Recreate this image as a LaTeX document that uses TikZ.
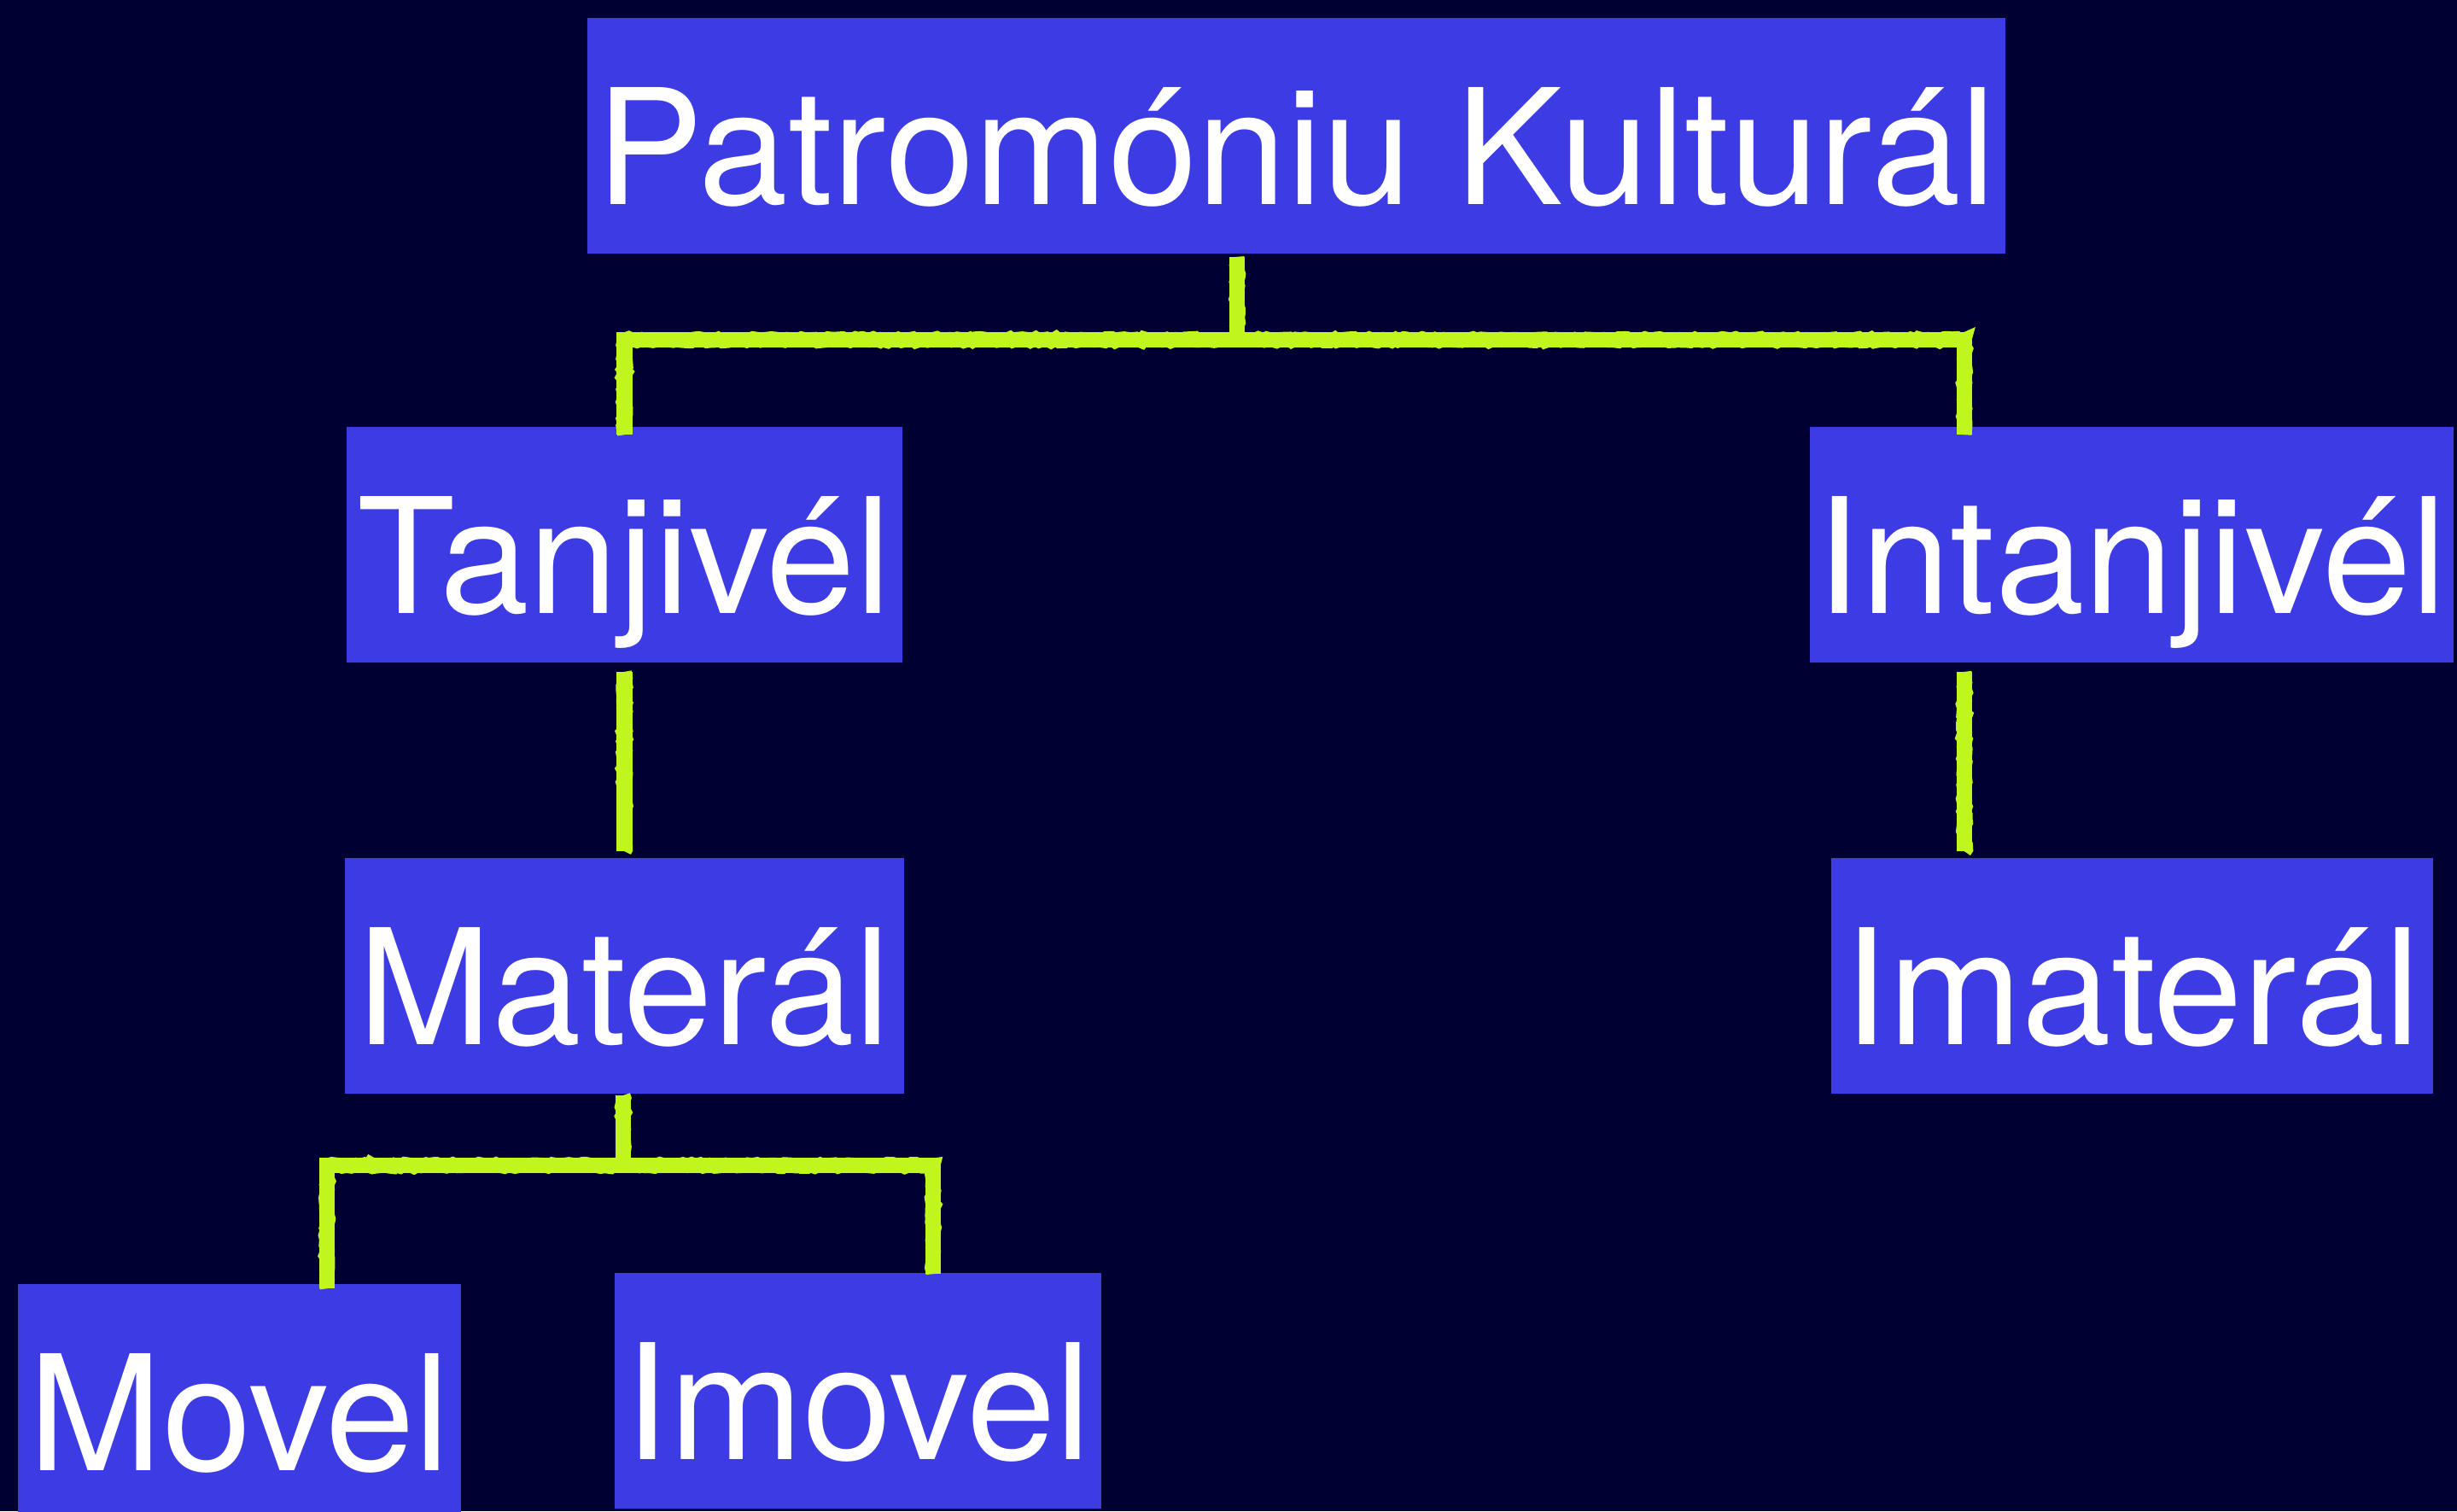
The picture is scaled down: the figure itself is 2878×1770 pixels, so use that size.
\documentclass[tikz,border=0pt]{standalone}
\usepackage{fontspec}
\setmainfont{TeX Gyre Heros}
\usetikzlibrary{calc,decorations.pathmorphing}
\definecolor{bgc}{RGB}{0,0,50}
\definecolor{boxc}{RGB}{61,59,227}
\definecolor{linec}{RGB}{192,245,30}
\pgfmathsetseed{7}
\tikzset{
  box/.style={rectangle, fill=boxc, text=white, inner xsep=0pt, inner ysep=0pt,
    text height=54.5pt, text depth=14.5pt, font=\fontsize{47}{56}\selectfont, anchor=center},
  conn/.style={draw=linec, line width=4.6pt, line join=miter,
    postaction={draw=linec, line width=4.2pt, decorate,
      decoration={random steps, segment length=1.2pt, amplitude=0.45pt}}}
}
\begin{document}
\begin{tikzpicture}[x=0.25pt,y=-0.25pt]
\useasboundingbox (0,0) rectangle (2878,1770);
\clip (0,0) rectangle (2878,1770);
\fill[bgc] (0,0) rectangle (2878,1770);
\node[box, minimum width=1661*0.25pt] (pk) at (1518.5,159) {Patromóniu Kulturál};
\node[box, minimum width=651*0.25pt] (tan) at (731.5,638) {Tanjivél};
\node[box, minimum width=754*0.25pt] (intan) at (2497,638) {Intanjivél};
\node[box, minimum width=655*0.25pt] (mat) at (731.5,1143) {Materál};
\node[box, minimum width=705*0.25pt] (imat) at (2497.5,1143) {Imaterál};
\node[box, minimum width=519*0.25pt] (movel) at (280.5,1642) {Movel};
\node[box, minimum width=570*0.25pt] (imovel) at (1005,1629) {Imovel};
\coordinate (j1) at (1449,398);
\coordinate (r1) at (2301,398);
\coordinate (j2) at (730,1365);
\coordinate (l2) at (383,1365);
\coordinate (r2) at (1093,1365);
\draw[conn] ($(pk.south -| j1)+(0,3)$) -- (j1);
\draw[conn] ($(tan.north)+(0,10)$) |- (r1) -- ($(r1 |- intan.north)+(0,10)$);
\draw[conn] ($(tan.south)+(0,10)$) -- ($(mat.north)+(0,-7)$);
\draw[conn] ($(r1 |- intan.south)+(0,10)$) -- ($(r1 |- imat.north)+(0,-7)$);
\draw[conn] ($(mat.south -| j2)+(0,1)$) -- (j2);
\draw[conn] ($(l2 |- movel.north)+(0,6)$) |- (r2) -- ($(r2 |- imovel.north)+(0,2)$);
\end{tikzpicture}
\end{document}
